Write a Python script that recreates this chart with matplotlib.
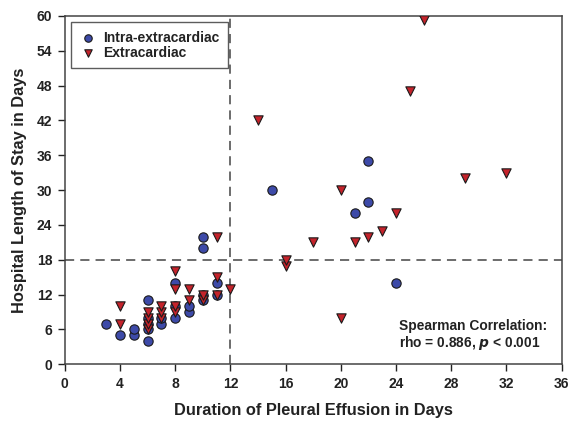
import matplotlib
matplotlib.use("Agg")
import matplotlib.pyplot as plt

plt.rcParams['font.family'] = ['Liberation Sans', 'DejaVu Sans']
plt.rcParams['font.weight'] = 'bold'

# Intra-extracardiac (circles)
intra_x = [3, 4, 5, 5, 6, 6, 6, 6, 6, 7, 7, 8, 8, 8, 9, 9, 10, 10, 10, 10, 11, 11,
           15, 21, 22, 22, 24]
intra_y = [7, 5, 5, 6, 4, 6, 7, 8, 11, 7, 8, 8, 10, 14, 9, 10, 11, 12, 20, 22, 12, 14,
           30, 26, 28, 35, 14]

# Extracardiac (triangles)
extra_x = [4, 4, 6, 6, 6, 6, 7, 7, 7, 8, 8, 8, 8, 9, 9, 10, 10, 11, 11, 11, 12,
           14, 16, 16, 18, 20, 20, 21, 22, 23, 24, 25, 26, 29, 32]
extra_y = [7, 10, 6, 7, 8, 9, 8, 9, 10, 9, 10, 13, 16, 11, 13, 11, 12, 12, 15, 22, 13,
           42, 17, 18, 21, 8, 30, 21, 22, 23, 26, 47, 59.3, 32, 33]

x_ticks = list(range(0, 37, 4))
y_ticks = list(range(0, 61, 6))
cut_x = 12
cut_y = 18

fig = plt.figure(figsize=(5.69, 4.21), dpi=100)
ax = fig.add_axes([0.114, 0.135, 0.873, 0.827])

ax.axvline(cut_x, color='#444444', lw=1.1, ls=(0, (6, 4)), zorder=1)
ax.axhline(cut_y, color='#444444', lw=1.1, ls=(0, (6, 4)), zorder=1)

ax.scatter(intra_x, intra_y, s=45, marker='o', facecolor='#3d4aa8',
           edgecolor='#1a1a1a', linewidths=0.8, zorder=3, label='Intra-extracardiac')
ax.scatter(extra_x, extra_y, s=45, marker='v', facecolor='#c4232b',
           edgecolor='#1a1a1a', linewidths=0.8, zorder=4, label='Extracardiac')

ax.set_xlim(0, 36)
ax.set_ylim(0, 60)
ax.set_xticks(x_ticks)
ax.set_yticks(y_ticks)
ax.tick_params(direction='out', length=5, width=1, labelsize=10, colors='#222222',
               pad=4)
for lab in ax.get_xticklabels() + ax.get_yticklabels():
    lab.set_fontweight('bold')
for sp in ax.spines.values():
    sp.set_color('#444444')
    sp.set_linewidth(1.1)

ax.set_xlabel('Duration of Pleural Effusion in Days', fontsize=11.8, fontweight='bold',
              color='#222222', labelpad=9)
ax.set_ylabel('Hospital Length of Stay in Days', fontsize=11.8, fontweight='bold',
              color='#222222', labelpad=7)

leg = ax.legend(loc='upper left', fontsize=10, frameon=True, fancybox=False,
                borderaxespad=0.45, handletextpad=0.5, handlelength=1.2,
                borderpad=0.6, labelspacing=0.1, scatterpoints=1, markerscale=0.8)
leg.get_frame().set_edgecolor('#333333')
leg.get_frame().set_linewidth(1.0)
for t in leg.get_texts():
    t.set_fontweight('bold')
    t.set_color('#222222')

ax.text(0.97, 0.109, 'Spearman Correlation:', transform=ax.transAxes, ha='right',
        va='center', fontsize=9.9, fontweight='bold', color='#222222')
ax.text(0.958, 0.061, r'rho = 0.886, $\mathbfit{p}$ < 0.001', transform=ax.transAxes,
        ha='right', va='center', fontsize=9.9, fontweight='bold', color='#222222')

fig.savefig('out.png', dpi=100)
